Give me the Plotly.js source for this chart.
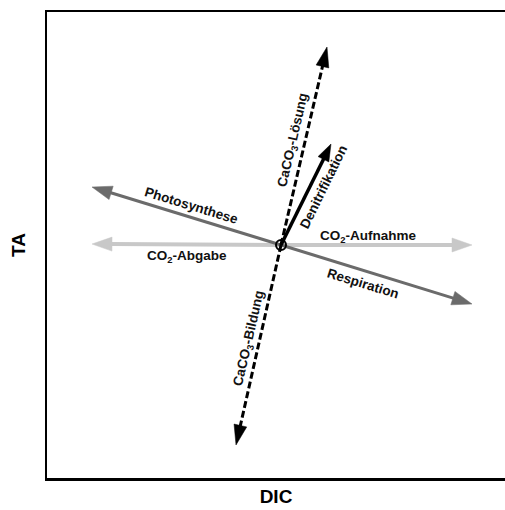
<!DOCTYPE html>
<html>
<head>
<meta charset="utf-8">
<script src="https://cdn.plot.ly/plotly-3.0.1.min.js"></script>
<style>html,body{margin:0;padding:0;background:#fff;}#chart{width:505px;height:510px;}</style>
</head>
<body>
<div id="chart"></div>
<script>
// Process vectors (change in DIC, change in TA) from the origin
const processes = ['CO2-Abgabe', 'CO2-Aufnahme', 'Photosynthese', 'Respiration', 'CaCO3-Lösung', 'CaCO3-Bildung', 'Denitrifikation'];
const dDIC = [-189, 191, -189, 191, 46, -45, 50];
const dTA  = [1, 0, 58, -59, 198, -200, 101];

// Labels
const labelText  = ['CO<sub>2</sub>-Abgabe', 'CO<sub>2</sub>-Aufnahme', 'Photosynthese', 'Respiration', 'CaCO<sub>3</sub>-Lösung', 'CaCO<sub>3</sub>-Bildung', 'Denitrifikation'];
const labelDIC   = [-94, 87, -90, 82, 12, -32, 42];
const labelTA    = [-11, 9, 40, -38, 105, -93, 58];
const labelAngle = [0, 0, 17, 17, -77, -77, -64];

// Styles (not data)
const colors = ['#c8c8c8', '#c8c8c8', '#6b6b6b', '#6b6b6b', '#000000', '#000000', '#000000'];
const widths = [4, 4, 3, 3, 3, 3, 3.5];
const dashes = ['solid', 'solid', 'solid', 'solid', '7px,3px', '7px,3px', 'solid'];
const headL  = [20, 20, 20, 20, 20, 20, 17];
const headW  = [7, 7, 7, 7, 6.5, 6.5, 6];

const traces = [];
for (let i = 0; i < processes.length; i++) {
  const tx = dDIC[i], ty = dTA[i];
  const len = Math.sqrt(tx * tx + ty * ty);
  const ux = tx / len, uy = ty / len;
  const bx = tx - ux * headL[i], by = ty - uy * headL[i];
  // shaft
  traces.push({
    x: [0, bx + ux * 2], y: [0, by + uy * 2], mode: 'lines', type: 'scatter',
    line: {color: colors[i], width: widths[i], dash: dashes[i]},
    hoverinfo: 'skip', showlegend: false, name: processes[i]
  });
  // head
  const px = -uy, py = ux;
  traces.push({
    x: [tx, bx + px * headW[i], bx - px * headW[i], tx],
    y: [ty, by + py * headW[i], by - py * headW[i], ty],
    mode: 'lines', type: 'scatter', fill: 'toself', fillcolor: colors[i],
    line: {color: colors[i], width: 0.5}, hoverinfo: 'skip', showlegend: false
  });
}
// origin marker
traces.push({
  x: [0], y: [0], mode: 'markers', type: 'scatter',
  marker: {symbol: 'circle-open', size: 10, color: '#000', line: {width: 2, color: '#000'}},
  hoverinfo: 'skip', showlegend: false
});

const annotations = labelText.map((t, i) => ({
  x: labelDIC[i], y: labelTA[i], xref: 'x', yref: 'y', text: '<b>' + t + '</b>',
  showarrow: false, textangle: labelAngle[i],
  font: {family: 'Liberation Sans, Arial, sans-serif', size: 13.5, color: '#111'}
}));

const layout = {
  width: 505, height: 510,
  margin: {l: 47, r: 0, t: 12, b: 32},
  paper_bgcolor: '#fff', plot_bgcolor: '#fff',
  showlegend: false,
  xaxis: {
    range: [-234, 224], showgrid: false, zeroline: false, showticklabels: false, ticks: '',
    showline: true, mirror: true, linecolor: '#000', linewidth: 2.5,
    title: {text: '<b>DIC</b>', font: {family: 'Liberation Sans, Arial, sans-serif', size: 19, color: '#000'}, standoff: 10}
  },
  yaxis: {
    range: [-233, 233], showgrid: false, zeroline: false, showticklabels: false, ticks: '',
    showline: true, mirror: false, linecolor: '#000', linewidth: 2.5,
    title: {text: '<b>TA</b>', font: {family: 'Liberation Sans, Arial, sans-serif', size: 19, color: '#000'}, standoff: 14}
  },
  annotations: annotations
};

Plotly.newPlot('chart', traces, layout, {displayModeBar: false, staticPlot: true});
</script>
</body>
</html>
